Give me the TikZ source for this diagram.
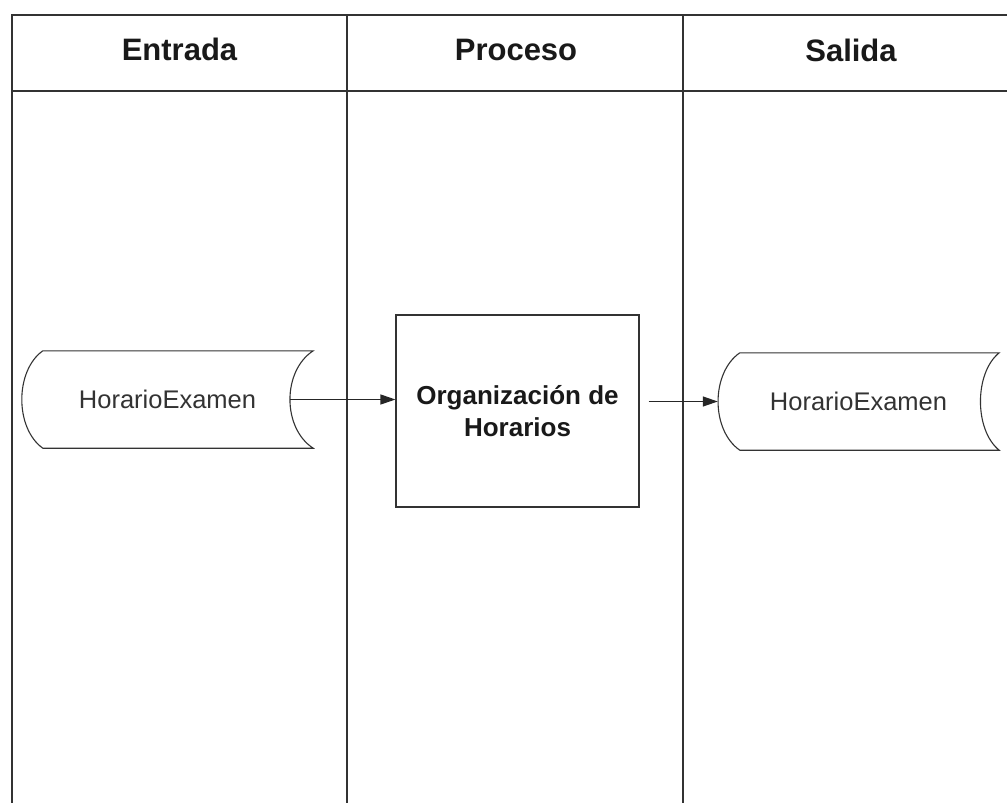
\documentclass[tikz,border=0pt]{standalone}
\usepackage{fontspec}
\setmainfont{Liberation Sans}
\usetikzlibrary{arrows.meta,calc}
\begin{document}
\begin{tikzpicture}[x=1pt,y=-1pt,
  grid/.style={line width=1.3pt,draw=black!80},
  hdr/.style={font=\fontsize{31}{36}\selectfont\bfseries,anchor=base,text=black!90},
  datanode/.style={inner sep=0pt,font=\fontsize{25.5}{30}\selectfont,text=black!80},
  shapeline/.style={line width=1.1pt,draw=black!80},
  procbox/.style={draw=black!80,line width=1.1pt,inner sep=0pt,minimum width=243pt,minimum height=192pt,align=center,font=\fontsize{26}{32}\selectfont\bfseries,text=black!90},
  arr/.style={line width=1.2pt,draw=black!85,-{Triangle[length=15pt,width=10pt]}}
]
\useasboundingbox (0,0) rectangle (1007,803);
\fill[white] (0,0) rectangle (1007,803);
% table
\draw[grid] (1007,15) -- (12,15) -- (12,803);
\draw[grid] (12,91) -- (1007,91);
\draw[grid] (347,15) -- (347,803);
\draw[grid] (683,15) -- (683,803);
\node[hdr] (h1) at (179.5,60) {Entrada};
\node[hdr] (h2) at (516,60) {Proceso};
\node[hdr] (h3) at (851,61) {Salida};
% input data
\node[datanode,minimum width=291pt,minimum height=97pt] (ind) at (167.5,399.5) {HorarioExamen};
\draw[shapeline] ($(ind.north west)+(21,0)$) -- (ind.north east)
  .. controls ($(ind.north east)+(-31,20)$) and ($(ind.south east)+(-31,-20)$) .. (ind.south east)
  -- ($(ind.south west)+(21,0)$)
  .. controls ($(ind.south west)+(-7,-20)$) and ($(ind.north west)+(-7,20)$) .. cycle;
\coordinate (inR) at ($(ind.east)+(-23,0)$);
% process
\node[procbox] (box) at (517.5,411) {Organización de\\Horarios};
% output data
\node[datanode,minimum width=281pt,minimum height=97pt] (outd) at (858.5,401.5) {HorarioExamen};
\draw[shapeline] ($(outd.north west)+(22,0)$) -- (outd.north east)
  .. controls ($(outd.north east)+(-25,20)$) and ($(outd.south east)+(-25,-20)$) .. (outd.south east)
  -- ($(outd.south west)+(22,0)$)
  .. controls ($(outd.south west)+(-7,-20)$) and ($(outd.north west)+(-7,20)$) .. cycle;
% arrows
\draw[arr] (inR) -- (inR -| box.west);
\draw[arr,shorten <=9pt] (box.east |- outd.west) -- (outd.west);
\end{tikzpicture}
\end{document}
